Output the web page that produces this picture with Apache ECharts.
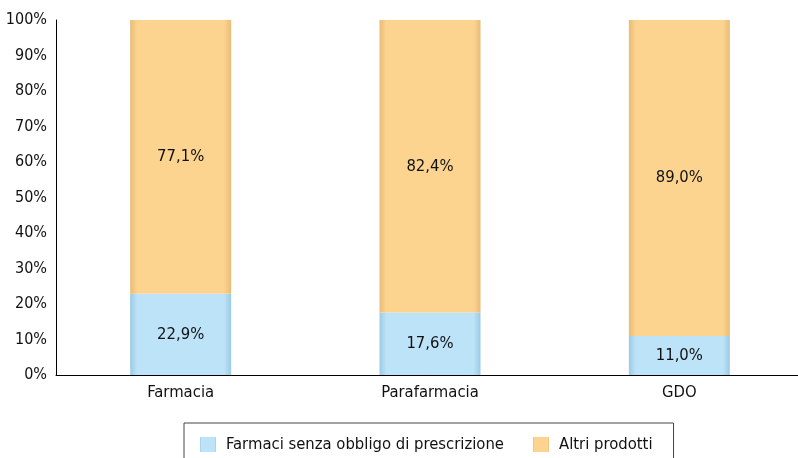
<!DOCTYPE html>
<html>
<head>
<meta charset="utf-8">
<script src="https://cdn.jsdelivr.net/npm/echarts@6/dist/echarts.min.js"></script>
<style>
  html, body { margin: 0; padding: 0; background: #fff; overflow: hidden; }
  #main { width: 806px; height: 458px; }
</style>
</head>
<body>
<div id="main"></div>
<script>
// categorie e valori (%)
var categories = ['Farmacia', 'Parafarmacia', 'GDO'];
var farmaciSOP = [22.9, 17.6, 11.0];
var altriProdotti = [77.1, 82.4, 89.0];
var yTicks = [0, 10, 20, 30, 40, 50, 60, 70, 80, 90, 100];

var FONT = "'DejaVu Sans Condensed', 'Liberation Sans Narrow', sans-serif";

// leggera ombreggiatura ai bordi delle barre
function shade(base, edge) {
    return {
        type: 'linear', x: 0, y: 0, x2: 1, y2: 0,
        colorStops: [
            { offset: 0, color: edge },
            { offset: 0.07, color: base },
            { offset: 0.93, color: base },
            { offset: 1, color: edge }
        ]
    };
}

function fmt(v) {
    return v.toFixed(1).replace('.', ',') + '%';
}

var chart = echarts.init(document.getElementById('main'));
var option = {
    animation: false,
    textStyle: { fontFamily: FONT },
    grid: { left: 56, top: 20, right: 2, bottom: 83, containLabel: false },
    legend: {
        left: 184,
        top: 423,
        icon: 'rect',
        itemWidth: 16,
        itemHeight: 15,
        itemGap: 29,
        padding: [13, 21, 20, 16],
        borderColor: '#444',
        borderWidth: 1,
        borderRadius: 0,
        itemStyle: { borderWidth: 0 },
        textStyle: { fontFamily: FONT, fontSize: 16.5, color: '#111', padding: [0, 0, 0, 5] },
        data: ['Farmaci senza obbligo di prescrizione', 'Altri prodotti']
    },
    xAxis: {
        type: 'category',
        data: categories,
        axisLine: { lineStyle: { color: '#000', width: 1 } },
        axisTick: { show: false },
        axisLabel: { fontFamily: FONT, fontSize: 16.5, color: '#111', margin: 9 }
    },
    yAxis: {
        type: 'value',
        min: yTicks[0],
        max: yTicks[yTicks.length - 1],
        interval: 10,
        splitLine: { show: false },
        axisLine: { show: true, lineStyle: { color: '#000', width: 1 } },
        axisTick: { show: false },
        axisLabel: { fontFamily: FONT, fontSize: 16, color: '#111', margin: 9, formatter: '{value}%' }
    },
    series: [
        {
            name: 'Farmaci senza obbligo di prescrizione',
            type: 'bar',
            stack: 'tot',
            barWidth: 101,
            data: farmaciSOP,
            itemStyle: { color: shade('#BDE3F8', '#9ACBE3') },
            label: {
                show: true, position: 'inside', fontFamily: FONT, fontSize: 16.5, color: '#111',
                formatter: function (p) { return fmt(p.value); }
            }
        },
        {
            name: 'Altri prodotti',
            type: 'bar',
            stack: 'tot',
            barWidth: 101,
            data: altriProdotti,
            itemStyle: { color: shade('#FDD48F', '#E8BC78') },
            label: {
                show: true, position: 'inside', fontFamily: FONT, fontSize: 16.5, color: '#111',
                formatter: function (p) { return fmt(p.value); }
            }
        }
    ]
};
chart.setOption(option);
</script>
</body>
</html>
